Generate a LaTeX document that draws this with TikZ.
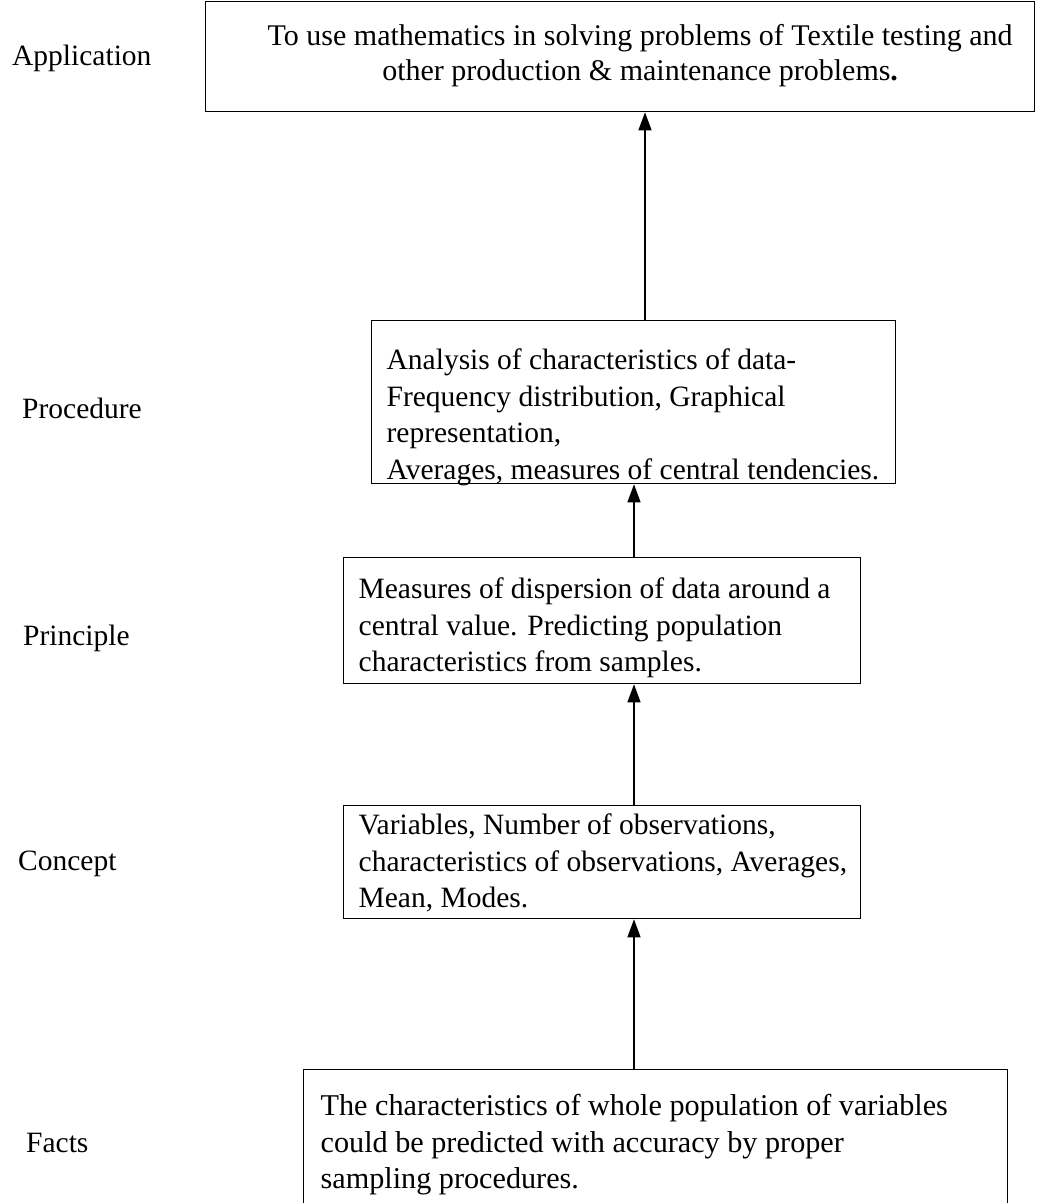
\documentclass[tikz,border=0pt]{standalone}
\usepackage{fontspec}
\setmainfont{Liberation Serif}
\usetikzlibrary{arrows.meta}

\begin{document}
\begin{tikzpicture}[x=1pt,y=-1pt,
  txt/.style={font=\fontsize{29.5}{36.6}\selectfont},
  box/.style={draw, line width=1.3pt, anchor=north west, inner xsep=0pt, inner ysep=0pt, txt},
  lvl/.style={anchor=base west, inner sep=0pt, txt},
  up/.style={line width=1.3pt, -{Triangle[length=18pt,width=13pt]}}]

\useasboundingbox (0,0) rectangle (1050,1203);

% Boxes of the hierarchy, from top to bottom
\node[box] (app) at (205,1)
  {\hspace*{40pt}\parbox[t][110pt][t]{789pt}{\centering\fontsize{30}{35}\selectfont\rule{0pt}{44pt}To use mathematics in solving problems of Textile testing and\\
   other production \& maintenance problems\textbf{.}}};

\node[box] (proc) at (371,320)
  {\hspace*{15pt}\parbox[t][163pt][t]{509pt}{\raggedright\rule{0pt}{49pt}Analysis of characteristics of data-\\
   Frequency distribution, Graphical\\ representation,\\
   Averages, measures of central tendencies.}};

\node[box] (princ) at (343,557)
  {\hspace*{15pt}\parbox[t][126pt][t]{502pt}{\raggedright\rule{0pt}{41pt}Measures of dispersion of data around a\\
   central value. Predicting population\\ characteristics from samples.}};

\node[box] (conc) at (343,805)
  {\hspace*{15pt}\parbox[t][113pt][t]{502pt}{\raggedright\rule{0pt}{29pt}Variables, Number of observations,\\
   characteristics of observations, Averages,\\ Mean, Modes.}};

\node[box] (facts) at (303,1069)
  {\hspace*{17pt}\parbox[t][150pt][t]{687pt}{\raggedright\fontsize{30.2}{36.6}\selectfont\rule{0pt}{46pt}The characteristics of whole population of variables\\
   could be predicted with accuracy by proper\\ sampling procedures.}};

% Level names on the left
\node[lvl] (lapp)   at (12,65)    {Application};
\node[lvl] (lproc)  at (22,418)   {Procedure};
\node[lvl] (lprinc) at (23,645)   {Principle};
\node[lvl] (lconc)  at (18,870)   {Concept};
\node[lvl] (lfacts) at (26,1152)  {Facts};

% Vertical axes of the connectors
\coordinate (axtop) at (645,0);
\coordinate (axlow) at (634,0);

\draw[up] (proc.north -| axtop)  -- (app.south -| axtop);
\draw[up] (princ.north -| axlow) -- (proc.south -| axlow);
\draw[up] (conc.north -| axlow)  -- (princ.south -| axlow);
\draw[up] (facts.north -| axlow) -- (conc.south -| axlow);
\end{tikzpicture}
\end{document}
